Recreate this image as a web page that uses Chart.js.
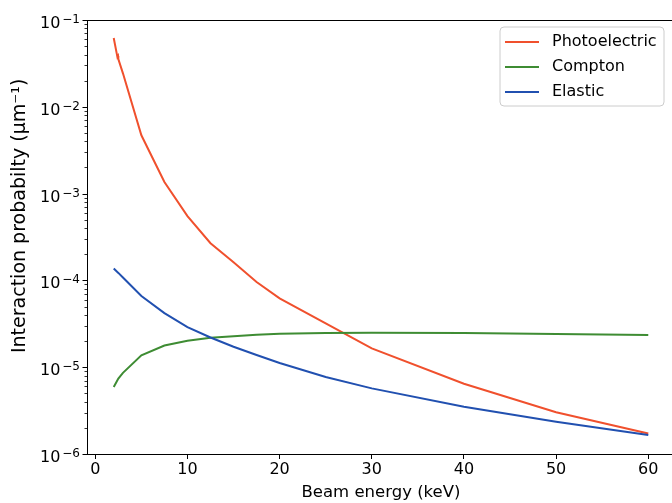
<!DOCTYPE html>
<html>
<head>
<meta charset="utf-8">
<script src="https://cdn.jsdelivr.net/npm/chart.js@4/dist/chart.umd.min.js"></script>
<style>
  html, body { margin: 0; padding: 0; background: #fff; overflow: hidden; }
  #wrap { position: relative; width: 680px; height: 503px; }
</style>
</head>
<body>
<div id="wrap"><canvas id="c" width="680" height="503"></canvas></div>
<script>
// ---- data ----
const seriesNames = ['Photoelectric', 'Compton', 'Elastic'];
const seriesColors = ['#f0502d', '#3e8c33', '#2150b0'];

const photoEnergy = [2, 2.4, 2.47, 2.5, 3, 5, 7.5, 10, 12.5, 15, 17.5, 20, 25, 30, 40, 50, 60];
const photoValues = [0.062, 0.0374, 0.0385, 0.0355, 0.0243, 0.0047, 0.00136, 0.00055, 0.000268,
                     0.000162, 0.000096, 0.000062, 0.000032, 0.0000165, 0.00000645, 0.00000303, 0.00000172];

const energy = [2, 2.5, 3, 5, 7.5, 10, 12.5, 15, 17.5, 20, 25, 30, 40, 50, 60];
const comptonValues = [5.9e-6, 7.4e-6, 8.6e-6, 1.37e-5, 1.78e-5, 2.02e-5, 2.18e-5, 2.27e-5,
                       2.36e-5, 2.43e-5, 2.47e-5, 2.49e-5, 2.47e-5, 2.42e-5, 2.35e-5];
const elasticValues = [1.37e-4, 1.22e-4, 1.08e-4, 6.6e-5, 4.2e-5, 2.9e-5, 2.2e-5, 1.72e-5,
                       1.38e-5, 1.12e-5, 7.7e-6, 5.7e-6, 3.5e-6, 2.35e-6, 1.66e-6];

const xTicks = [0, 10, 20, 30, 40, 50, 60];
const yDecades = [1e-6, 1e-5, 1e-4, 1e-3, 1e-2, 1e-1];
const yTickBase = '10';
const yTickExponents = ['−6', '−5', '−4', '−3', '−2', '−1'];
const xLimits = [-0.9, 62.9];
const yLimits = [1e-6, 1e-1];

const FONT = "'DejaVu Sans', sans-serif";

function pts(xs, ys) { return xs.map((x, i) => ({ x: x, y: ys[i] })); }

function isDecade(v) {
  const lg = Math.log10(v);
  return Math.abs(lg - Math.round(lg)) < 1e-9;
}

const frameAndTicks = {
  id: 'frameAndTicks',
  afterDraw(chart) {
    const ctx = chart.ctx;
    const a = chart.chartArea;
    const ys = chart.scales.y;
    ctx.save();
    ctx.strokeStyle = '#000';
    ctx.lineWidth = 1;
    // frame
    ctx.strokeRect(Math.round(a.left) + 0.5, Math.round(a.top) + 0.5,
                   Math.round(a.right - a.left), Math.round(a.bottom - a.top));
    // y ticks (major + minor)
    ys.ticks.forEach(t => {
      const py = Math.round(ys.getPixelForValue(t.value)) + 0.5;
      const len = isDecade(t.value) ? 5 : 3;
      ctx.lineWidth = isDecade(t.value) ? 1 : 0.8;
      ctx.beginPath();
      ctx.moveTo(Math.round(a.left) + 0.5 - len, py);
      ctx.lineTo(Math.round(a.left) + 0.5, py);
      ctx.stroke();
    });
    // y tick labels: base with superscript exponent
    ctx.fillStyle = '#000';
    ctx.textAlign = 'right';
    ctx.textBaseline = 'alphabetic';
    yDecades.forEach((d, i) => {
      const py = ys.getPixelForValue(d);
      const right = Math.round(a.left) - 7;
      ctx.font = '12px ' + FONT;
      const supW = ctx.measureText(yTickExponents[i]).width;
      ctx.fillText(yTickExponents[i], right, py + 3);
      ctx.font = '16px ' + FONT;
      ctx.fillText(yTickBase, right - supW - 2, py + 8);
    });
    // legend
    const bx = 500, by = 27, bw = 164, bh = 79, r = 4;
    ctx.beginPath();
    ctx.moveTo(bx + r, by);
    ctx.arcTo(bx + bw, by, bx + bw, by + bh, r);
    ctx.arcTo(bx + bw, by + bh, bx, by + bh, r);
    ctx.arcTo(bx, by + bh, bx, by, r);
    ctx.arcTo(bx, by, bx + bw, by, r);
    ctx.closePath();
    ctx.fillStyle = 'rgba(255,255,255,0.8)';
    ctx.fill();
    ctx.strokeStyle = '#cccccc';
    ctx.lineWidth = 1;
    ctx.stroke();
    chart.data.datasets.forEach((ds, i) => {
      const yy = 42 + i * 25;
      ctx.strokeStyle = ds.borderColor;
      ctx.lineWidth = 2;
      ctx.beginPath();
      ctx.moveTo(505, yy);
      ctx.lineTo(539, yy);
      ctx.stroke();
      ctx.fillStyle = '#000';
      ctx.font = '16px ' + FONT;
      ctx.textBaseline = 'middle';
      ctx.textAlign = 'left';
      ctx.fillText(ds.label, 552, yy);
    });
    ctx.restore();
  }
};

new Chart(document.getElementById('c'), {
  type: 'line',
  data: {
    datasets: [
      { label: seriesNames[0], data: pts(photoEnergy, photoValues), borderColor: seriesColors[0], order: 3 },
      { label: seriesNames[1], data: pts(energy, comptonValues), borderColor: seriesColors[1], order: 2 },
      { label: seriesNames[2], data: pts(energy, elasticValues), borderColor: seriesColors[2], order: 1 }
    ]
  },
  options: {
    responsive: false,
    animation: false,
    devicePixelRatio: 1,
    layout: { padding: { top: 20, right: 5, left: 0, bottom: 0 } },
    elements: {
      line: { borderWidth: 2, tension: 0, fill: false },
      point: { radius: 0, hoverRadius: 0 }
    },
    plugins: { legend: { display: false }, tooltip: { enabled: false } },
    scales: {
      x: {
        type: 'linear',
        min: xLimits[0],
        max: xLimits[1],
        afterBuildTicks: s => { s.ticks = xTicks.map(v => ({ value: v })); },
        afterFit: s => { s.height = 49; },
        grid: { drawOnChartArea: false, drawTicks: true, tickLength: 5, tickColor: '#000', tickWidth: 1 },
        border: { display: true, color: '#000', width: 1 },
        ticks: { color: '#000', font: { family: FONT, size: 16 }, padding: 1, autoSkip: false, maxRotation: 0 },
        title: { display: true, text: 'Beam energy (keV)', color: '#000', font: { family: FONT, size: 16.5 },
                 padding: { top: 0, bottom: 0 } }
      },
      y: {
        type: 'logarithmic',
        min: yLimits[0],
        max: yLimits[1],
        afterBuildTicks: s => {
          const t = [];
          yDecades.forEach((d, i) => {
            if (i < yDecades.length - 1) {
              for (let m = 1; m <= 9; m++) t.push({ value: m * d });
            } else {
              t.push({ value: d });
            }
          });
          s.ticks = t;
        },
        afterFit: s => { s.width = 87; },
        grid: { drawOnChartArea: false, drawTicks: false },
        border: { display: true, color: '#000', width: 1 },
        ticks: { display: true, autoSkip: false, callback: () => '' },
        title: { display: true, text: '       Interaction probabilty (µm⁻¹)', color: '#000',
                 font: { family: FONT, size: 19 }, padding: { top: 9, bottom: 0 } }
      }
    }
  },
  plugins: [frameAndTicks]
});
</script>
</body>
</html>
